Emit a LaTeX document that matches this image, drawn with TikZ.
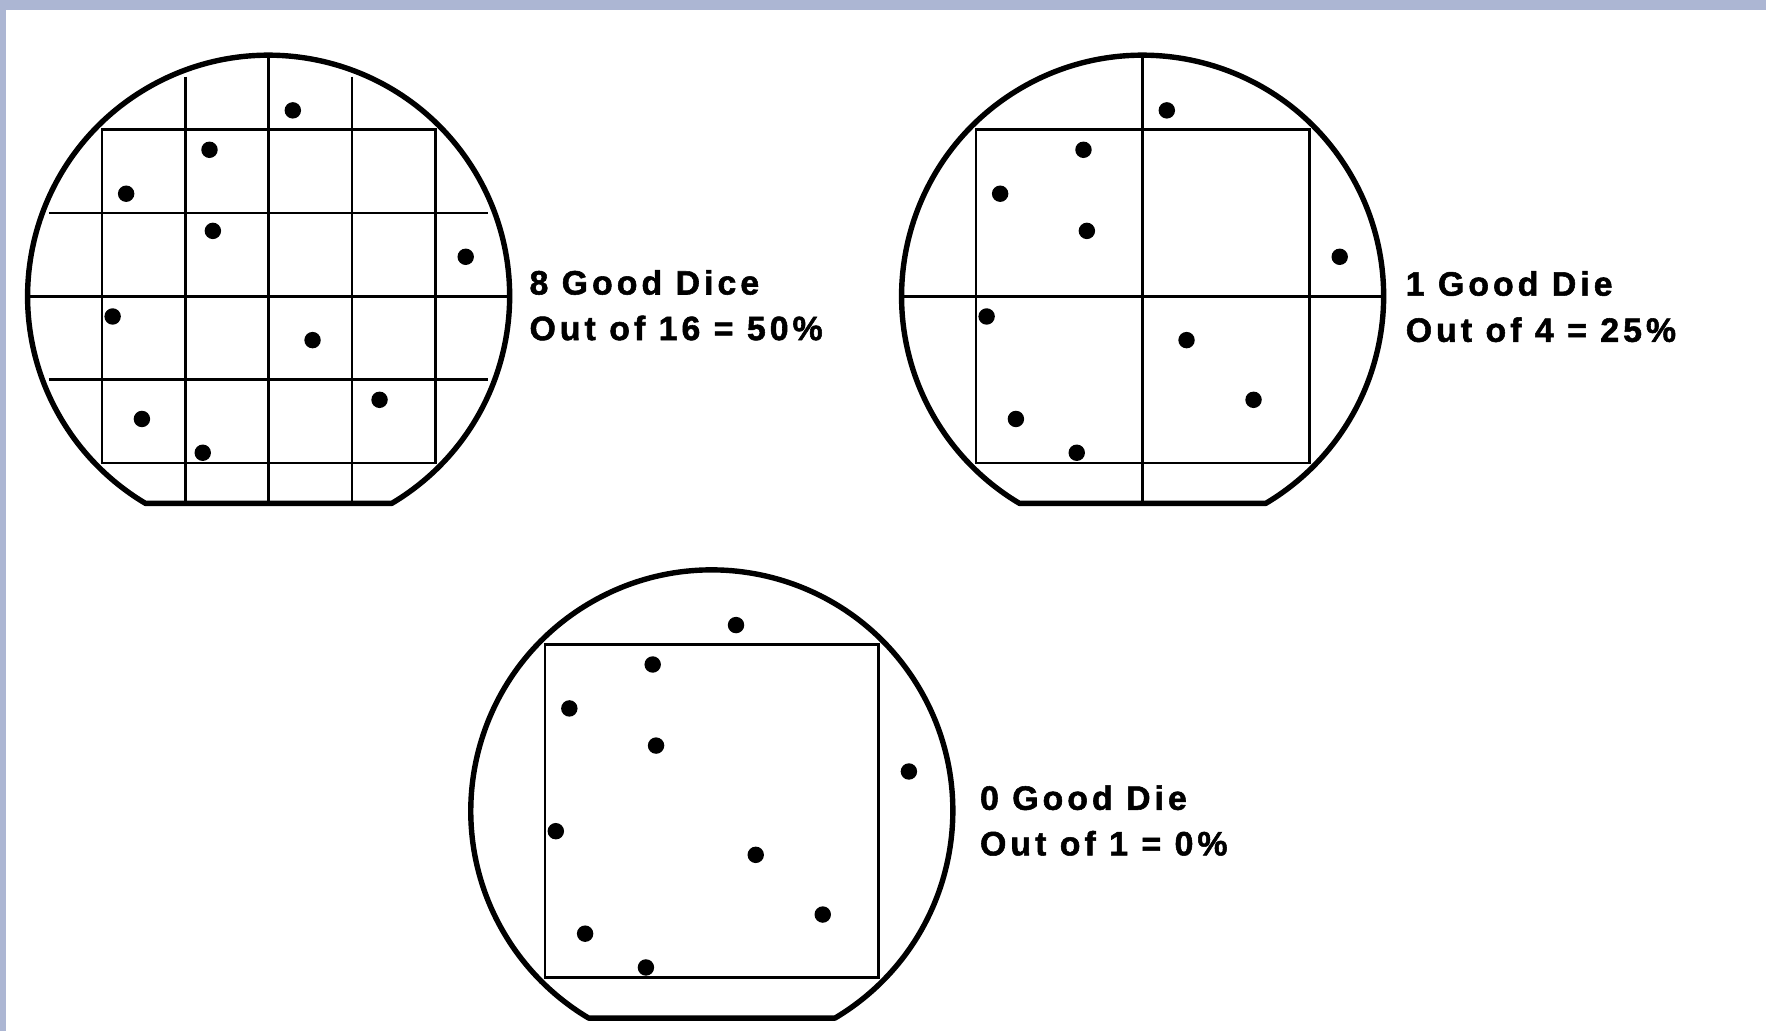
\documentclass[tikz,border=0pt]{standalone}
\usepackage{fontspec}
\setmainfont{Liberation Sans}
\newfontfamily\lblfont{Liberation Sans}[LetterSpace=12, BoldFeatures={FakeBold=1.6}]
\definecolor{bandblue}{RGB}{172,182,211}
\tikzset{
  outline/.style={line width=4.8pt, line join=round},
  gridline/.style={line width=2.4pt},
  dot/.style={fill=black},
  lbltext/.style={anchor=base west, inner sep=0pt, font=\lblfont\fontsize{30}{34}\selectfont\bfseries},
}
\begin{document}
\begin{tikzpicture}[x=1pt,y=1pt]
\useasboundingbox (0,0) rectangle (1568,915);
\fill[white] (0,0) rectangle (1568,915);
\fill[bandblue] (0,906.5) rectangle (1568,915);
\fill[bandblue] (0,0) rectangle (5.5,915);

% Wafer 1: 16 dice
\begin{scope}[shift={(238.5,652)}]
  \draw[gridline] (-148,-148) rectangle (148,148);
  \draw[gridline] (-195,74) -- (195,74);
  \draw[gridline] (-195,-74) -- (195,-74);
  \draw[gridline] (-214,0) -- (214,0);
  \draw[gridline] (-74,195) -- (-74,-184);
  \draw[gridline] (74,195) -- (74,-184);
  \draw[gridline] (0,214) -- (0,-184);
  \draw[outline] (-59.3:214) arc[start angle=-59.3,end angle=239.3,radius=214] -- cycle;
  \foreach \dx/\dy in {21.5/165,-52.5/130,-126.5/91,-49.5/58,175/35,-138.5/-18,39/-39,98.5/-92,-112.5/-109,-58.5/-139}
    \fill[dot] (\dx,\dy) circle[radius=7.3];
\end{scope}

% Wafer 2: 4 dice
\begin{scope}[shift={(1014.5,652)}]
  \draw[gridline] (-148,-148) rectangle (148,148);
  \draw[gridline] (-214,0) -- (214,0);
  \draw[gridline] (0,214) -- (0,-184);
  \draw[outline] (-59.3:214) arc[start angle=-59.3,end angle=239.3,radius=214] -- cycle;
  \foreach \dx/\dy in {21.5/165,-52.5/130,-126.5/91,-49.5/58,175/35,-138.5/-18,39/-39,98.5/-92,-112.5/-109,-58.5/-139}
    \fill[dot] (\dx,\dy) circle[radius=7.3];
\end{scope}

% Wafer 3: 1 die
\begin{scope}[shift={(632,195)}]
  \draw[gridline] (-148,-148) rectangle (148,148);
  \draw[outline] (-59.3:214) arc[start angle=-59.3,end angle=239.3,radius=214] -- cycle;
  \foreach \dx/\dy in {21.5/165,-52.5/130,-126.5/91,-49.5/58,175/35,-138.5/-18,39/-39,98.5/-92,-112.5/-109,-58.5/-139}
    \fill[dot] (\dx,\dy) circle[radius=7.3];
\end{scope}

\node[lbltext] (t1a) at (470,653.5) {8 Good Dice};
\node[lbltext] (t1b) at (470,613) {Out of 16 = 50\%};
\node[lbltext] (t2a) at (1248,652.5) {1 Good Die};
\node[lbltext] (t2b) at (1248,611.5) {Out of 4 = 25\%};
\node[lbltext] (t3a) at (870,196) {0 Good Die};
\node[lbltext] (t3b) at (870,155.5) {Out of 1 = 0\%};
\end{tikzpicture}
\end{document}
